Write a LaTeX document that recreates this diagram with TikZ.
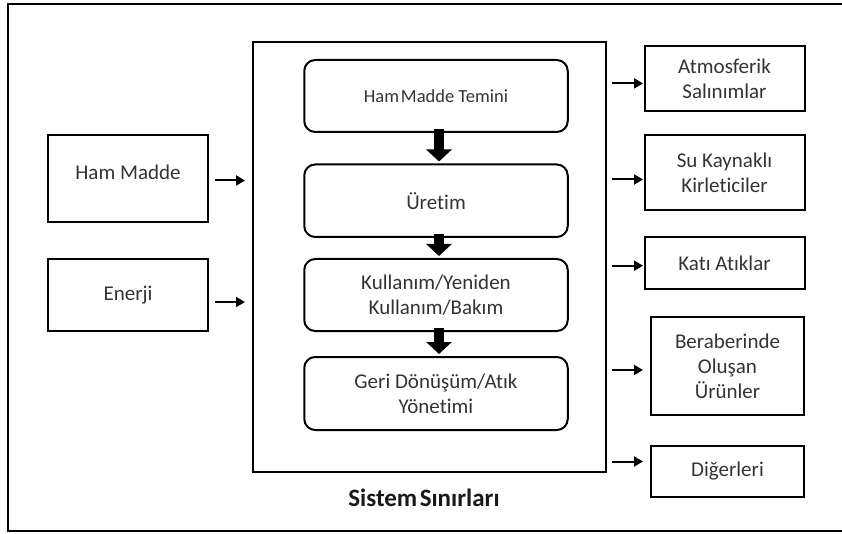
\documentclass[tikz,border=0pt]{standalone}
\usepackage{fontspec}
\setmainfont{Carlito}[Ligatures=NoCommon]
\usetikzlibrary{arrows.meta,positioning}

\tikzset{
  frame/.style={line width=2pt},
  plain/.style={draw, line width=2pt, align=center, inner sep=2pt, outer sep=0pt,
                font=\fontsize{21}{25}\selectfont, text=black!80},
  stage/.style={plain, rounded corners=11pt},
  flow/.style={line width=10pt, -{Triangle[width=25pt,length=12pt]}, shorten >=3pt},
  io/.style={line width=2pt, -{Triangle[width=10pt,length=9pt]}},
}

\begin{document}
\begin{tikzpicture}[x=1pt, y=-1pt]
\useasboundingbox (0,0) rectangle (842,534);
\clip (0,0) rectangle (842,534);

% outer frame (open to the right)
\draw[frame] (860,4) -- (8,4) -- (8,531) -- (860,531);

% system boundary
\node[draw, line width=2pt, minimum width=353pt, minimum height=430pt, outer sep=0pt]
  (sys) at (429.5,257) {};
\node[font=\bfseries\fontsize{25}{28}\selectfont, text=black!90] (lbl) at (424,498)
  {Sistem\hspace{0.1em}Sınırları};

% life-cycle stages
\node[stage, minimum width=263.5pt, minimum height=72pt, font=\fontsize{18.5}{22}\selectfont]
  (b1) at (436,96) {Ham\hspace{0.1em}Madde Temini};
\node[stage, minimum width=263.5pt, minimum height=72.5pt] (b2) at (436,200.75) {Üretim};
\node[stage, minimum width=263.5pt, minimum height=72pt] (b3) at (436,295)
  {Kullanım/Yeniden\\Kullanım/Bakım};
\node[stage, minimum width=263.5pt, minimum height=73pt] (b4) at (436,393.5)
  {Geri Dönüşüm/Atık\\Yönetimi};

\draw[flow] ([xshift=3pt,yshift=3pt]b1.south) -- ([xshift=3pt]b2.north);
\draw[flow] ([xshift=3pt,yshift=3pt]b2.south) -- ([xshift=3pt]b3.north);
\draw[flow] ([xshift=3pt,yshift=3pt]b3.south) -- ([xshift=3pt]b4.north);

% inputs
\node[plain, minimum width=160pt, minimum height=87pt, text depth=12pt] (hm) at (128,178.5) {Ham Madde};
\node[plain, minimum width=160pt, minimum height=72pt] (en) at (128,295) {Enerji};

\coordinate (i1) at (245,180.5);
\coordinate (i2) at (245,302);
\draw[io] (hm.east |- i1) ++(7,0) -- (i1);
\draw[io] (en.east |- i2) ++(7,0) -- (i2);

% outputs
\node[plain, minimum width=160pt, minimum height=64.7pt] (at) at (724.5,78.4) {Atmosferik\\Salınımlar};
\node[plain, minimum width=160pt, minimum height=74.5pt] (su) at (724.5,172.75) {Su Kaynaklı\\Kirleticiler};
\node[plain, minimum width=160pt, minimum height=52pt] (ka) at (724.5,263) {Katı Atıklar};
\node[plain, minimum width=153pt, minimum height=98pt] (be) at (727.5,366) {Beraberinde\\Oluşan\\Ürünler};
\node[plain, minimum width=153pt, minimum height=50.6pt] (di) at (727.5,471.3) {Diğerleri};

\coordinate (o1) at (643,83.4);
\coordinate (o2) at (643,179.5);
\coordinate (o3) at (643,265.7);
\coordinate (o4) at (643,370);
\coordinate (o5) at (643,461.5);
\foreach \o in {o1,o2,o3,o4,o5}
  \draw[io] (sys.east |- \o) ++(6,0) -- (\o);
\end{tikzpicture}
\end{document}
